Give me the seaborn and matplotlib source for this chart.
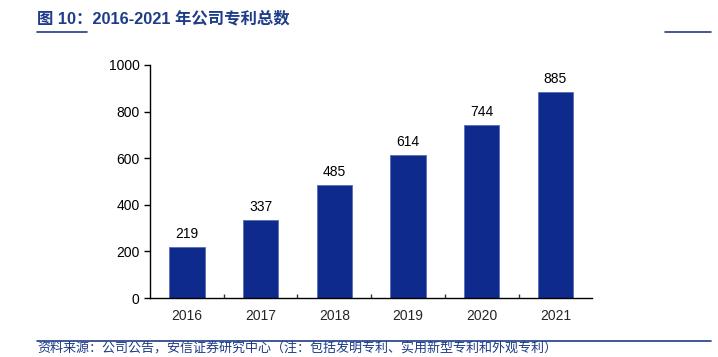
import numpy as np
import pandas as pd
import matplotlib
matplotlib.use('Agg')
import matplotlib.pyplot as plt
import seaborn as sns

years = ['2016', '2017', '2018', '2019', '2020', '2021']
patents = [219, 337, 485, 614, 744, 885]

title_text = '图 10：2016-2021 年公司专利总数'
source_text = '资料来源：公司公告，安信证券研究中心（注：包括发明专利、实用新型专利和外观专利）'

bar_color = '#0D2A8C'
head_color = '#1F3C88'

sns.set_style('white')
plt.rcParams['font.family'] = ['Liberation Sans', 'Noto Sans CJK SC', 'DejaVu Sans']

df = pd.DataFrame({'year': years, 'count': patents})

fig = plt.figure(figsize=(7.18, 3.57), dpi=100)
ax = fig.add_axes([0.209, 0.165, 0.616, 0.653])

sns.barplot(data=df, x='year', y='count', color=bar_color, width=0.48,
            saturation=1, edgecolor='#5a6db5', linewidth=0.6, ax=ax)

for i, v in enumerate(patents):
    ax.text(i, v + 25, str(v), ha='center', va='bottom', fontsize=10, color='black')

ax.set_ylim(0, 1000)
ax.set_yticks(np.arange(0, 1001, 200))
ax.set_xlim(-0.5, len(years) - 0.5)
ax.set_xlabel('')
ax.set_ylabel('')
for s in ['top', 'right']:
    ax.spines[s].set_visible(False)
ax.spines['left'].set_color('black')
ax.spines['bottom'].set_color('black')
ax.spines['left'].set_linewidth(1.0)
ax.spines['bottom'].set_linewidth(1.0)
ax.tick_params(axis='y', direction='out', length=4, width=1, labelsize=10, colors='black', left=True)
ax.tick_params(axis='x', which='major', length=0, labelsize=10, pad=8)
# small ticks between categories, pointing up
ax.set_xticks(np.arange(0.5, len(years) - 0.5), minor=True)
ax.tick_params(axis='x', which='minor', direction='in', length=3, width=1,
               bottom=True, color='#333333')

# header and footer
fig.text(0.052, 0.948, title_text, fontsize=11.8, fontweight='bold', color=head_color,
         ha='left', va='center', family=['Liberation Sans', 'Noto Sans CJK SC'])
fig.add_artist(plt.Line2D([0.052, 0.121], [0.91, 0.91], color=head_color, lw=1.2))
fig.add_artist(plt.Line2D([0.926, 0.99], [0.91, 0.91], color=head_color, lw=1.2))
fig.add_artist(plt.Line2D([0.052, 0.99], [0.045, 0.045], color=head_color, lw=1.2))
fig.text(0.052, 0.025, source_text, fontsize=9.4, color=head_color, style='italic',
         ha='left', va='center', family=['Noto Sans CJK SC', 'DejaVu Sans'])

fig.savefig('out.png', dpi=100)
